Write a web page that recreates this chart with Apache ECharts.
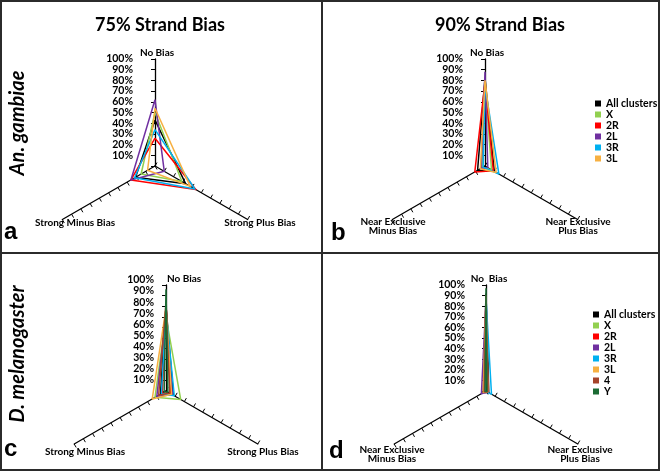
<!DOCTYPE html>
<html><head><meta charset="utf-8">
<script src="https://cdn.jsdelivr.net/npm/echarts@6/dist/echarts.min.js"></script>
<style>html,body{margin:0;padding:0;background:#fff}#chart{width:661px;height:474px}</style>
</head><body><div id="chart"></div>
<script>
// ---------------- DATA ----------------
const anClusters = ['All clusters', 'X', '2R', '2L', '3R', '3L'];
const dmClusters = ['All clusters', 'X', '2R', '2L', '3R', '3L', '4', 'Y'];
const strongAxes = ['No Bias', 'Strong Minus Bias', 'Strong Plus Bias'];
const nearAxes = ['No Bias', 'Near Exclusive\nMinus Bias', 'Near Exclusive\nPlus Bias'];
const nearAxesD = ['No  Bias', 'Near Exclusive\nMinus Bias', 'Near Exclusive\nPlus Bias'];
const panelTitles = ['75% Strand Bias', '90% Strand Bias'];
const speciesNames = ['An. gambiae', 'D. melanogaster'];
const panelLetters = ['a', 'b', 'c', 'd'];
const tickLabels = ['0%', '10%', '20%', '30%', '40%', '50%', '60%', '70%', '80%', '90%', '100%'];
// values per cluster: [No Bias, Minus Bias, Plus Bias] in %
const anGambiae75 = [[43, 21, 33], [50, 15, 29], [26, 26, 44], [62, 26, 10], [34, 22, 43], [54, 8, 38]];
const anGambiae90 = [[82, 8, 10], [80, 3, 7], [78, 11, 9], [88, 4, 3], [75, 2, 15], [80, 5, 12]];
const dMel75 = [[80, 6, 8], [70, 12, 16], [82, 4, 5], [72, 10, 7], [75, 5, 9], [78, 15, 6], [83, 8, 4], [96, 2, 2]];
const dMel90 = [[92, 3, 3], [88, 2, 2], [90, 2, 2], [85, 5, 2], [87, 1, 6], [88, 3, 2], [90, 2, 2], [97, 1, 1]];

// ---------------- STYLE / LAYOUT ----------------
const clusterColors = {
  'All clusters': '#000000', 'X': '#92d050', '2R': '#ff0000', '2L': '#7030a0',
  '3R': '#00b0f0', '3L': '#f7b041', '4': '#a5432a', 'Y': '#1b6b34'
};
const FONT = 'Lato, "Open Sans", sans-serif';
const panels = [
  { cx: 155, cy: 166, r: 107, axes: strongAxes, clusters: anClusters, values: anGambiae75,
    lblTop: 59, lblH: 107, lblMargin: 22,
    names: [{dx: 2, dy: -109, align: 'center', va: 'bottom'}, {dx: -80, dy: 57, align: 'center', va: 'middle'}, {dx: 105, dy: 57, align: 'center', va: 'middle'}] },
  { cx: 485, cy: 166, r: 107, axes: nearAxes, clusters: anClusters, values: anGambiae90,
    lblTop: 59, lblH: 107, lblMargin: 22,
    names: [{dx: 2, dy: -109, align: 'center', va: 'bottom'}, {dx: -92, dy: 60, align: 'center', va: 'middle'}, {dx: 93, dy: 60, align: 'center', va: 'middle'}] },
  { cx: 166, cy: 391, r: 106, axes: strongAxes, clusters: dmClusters, values: dMel75,
    lblTop: 280, lblH: 111, lblMargin: 12,
    names: [{dx: 1, dy: -108, align: 'left', va: 'bottom'}, {dx: -81, dy: 61, align: 'center', va: 'middle'}, {dx: 97, dy: 61, align: 'center', va: 'middle'}] },
  { cx: 486, cy: 391, r: 106, axes: nearAxesD, clusters: dmClusters, values: dMel90,
    lblTop: 285, lblH: 106, lblMargin: 21,
    names: [{dx: 3, dy: -108, align: 'center', va: 'bottom'}, {dx: -94, dy: 63, align: 'center', va: 'middle'}, {dx: 94, dy: 63, align: 'center', va: 'middle'}] }
];

const radar = [], series = [], grid = [], xAxis = [], yAxis = [], graphic = [];
panels.forEach((p, i) => {
  radar.push({
    center: [p.cx, p.cy], radius: p.r, startAngle: 90, shape: 'polygon', splitNumber: 10,
    indicator: p.axes.map(n => ({ name: n, min: 0, max: 100,
      axisTick: { show: true, length: 4, lineStyle: { color: '#000', width: 1 } } })),
    axisName: { show: false },
    axisLine: { lineStyle: { color: '#000', width: 1.3 } },
    axisTick: { show: true, length: 4, lineStyle: { color: '#000', width: 1 } },
    axisLabel: { show: false },
    splitLine: { show: false }, splitArea: { show: false }
  });
  p.clusters.forEach((c, k) => {
    series.push({
      type: 'radar', radarIndex: i, name: c, symbol: 'none', silent: true,
      itemStyle: { color: clusterColors[c] },
      lineStyle: { color: clusterColors[c], width: 1.5 },
      data: [{ value: p.values[k], name: c }]
    });
  });
  grid.push({ left: p.cx, top: p.lblTop, width: 1, height: p.lblH });
  xAxis.push({ gridIndex: i, type: 'value', show: false });
  yAxis.push({
    gridIndex: i, type: 'category', data: tickLabels, boundaryGap: false,
    axisLine: { show: false }, axisTick: { show: false }, splitLine: { show: false },
    axisLabel: { interval: 0, margin: p.lblMargin, color: '#000',
      formatter: (v, idx) => (idx === 0 ? '' : v),
      fontWeight: 'bold', fontSize: 10.5, fontFamily: FONT }
  });
  p.axes.forEach((n, j) => {
    const nm = p.names[j];
    graphic.push({
      type: 'text', x: p.cx + nm.dx, y: p.cy + nm.dy, silent: true,
      style: { text: n, fill: '#000', font: 'bold 10px ' + FONT, align: nm.align, verticalAlign: nm.va,
        textAlign: nm.align, textVerticalAlign: nm.va, lineHeight: 9 }
    });
  });
});

// borders
graphic.push({ type: 'rect', shape: { x: 1, y: 1, width: 658, height: 469 }, style: { fill: 'none', stroke: '#2b2b2b', lineWidth: 2 }, silent: true });
graphic.push({ type: 'line', shape: { x1: 322, y1: 1, x2: 322, y2: 470 }, style: { stroke: '#2b2b2b', lineWidth: 2 }, silent: true });
graphic.push({ type: 'line', shape: { x1: 1, y1: 253, x2: 659, y2: 253 }, style: { stroke: '#2b2b2b', lineWidth: 2 }, silent: true });
// species labels
[[18, 123], [18, 354]].forEach((pos, i) => {
  graphic.push({ type: 'text', x: pos[0], y: pos[1], rotation: Math.PI / 2, silent: true,
    style: { text: speciesNames[i], fill: '#000', font: 'italic bold 20px ' + FONT, align: 'center', verticalAlign: 'middle',
      textAlign: 'center', textVerticalAlign: 'middle' } });
});
// panel letters
[[4, 244], [331, 245], [4, 461], [329, 463]].forEach((pos, i) => {
  graphic.push({ type: 'text', x: pos[0], y: pos[1], silent: true,
    style: { text: panelLetters[i], fill: '#000', font: 'bold 24px "Liberation Sans", Arial, sans-serif', align: 'left', verticalAlign: 'bottom',
      textAlign: 'left', textVerticalAlign: 'bottom' } });
});

const legendCommon = { orient: 'vertical', icon: 'rect', itemWidth: 6, itemHeight: 6, itemGap: 0, padding: 0,
  selectedMode: false, textStyle: { fontWeight: 'bold', fontSize: 10.5, lineHeight: 10.7, fontFamily: FONT, color: '#000' } };

const option = {
  animation: false,
  backgroundColor: '#fff',
  title: [
    { text: panelTitles[0], left: 155, top: 11, textAlign: 'center', textStyle: { fontFamily: FONT, fontWeight: 'bold', fontSize: 18, color: '#000' } },
    { text: panelTitles[1], left: 495, top: 11, textAlign: 'center', textStyle: { fontFamily: FONT, fontWeight: 'bold', fontSize: 18, color: '#000' } }
  ],
  legend: [
    Object.assign({}, legendCommon, { data: anClusters, left: 595, top: 98 }),
    Object.assign({}, legendCommon, { data: dmClusters, left: 593, top: 309 })
  ],
  radar, grid, xAxis, yAxis, series, graphic
};
const chart = echarts.init(document.getElementById('chart'), null, { renderer: 'canvas' });
chart.setOption(option);
</script>
</body></html>
